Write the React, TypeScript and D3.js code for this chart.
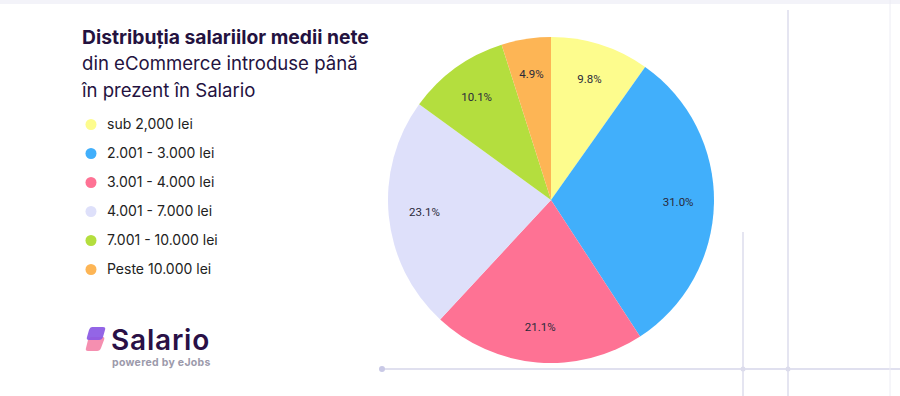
import * as d3 from 'd3';

const categories = ['sub 2,000 lei', '2.001 - 3.000 lei', '3.001 - 4.000 lei', '4.001 - 7.000 lei', '7.001 - 10.000 lei', 'Peste 10.000 lei'];
const shares = [9.8, 31.0, 21.1, 23.1, 10.1, 4.9];
const colors = ['#fdfc8d', '#41affb', '#fe7294', '#dee0fa', '#b4de3e', '#fdb555'];
const titleLines = ['Distribuția salariilor medii nete', 'din eCommerce introduse până', 'în prezent în Salario'];

const W = 900;
const H = 396;

const App = () => {
    const cx = 551;
    const cy = 200;
    const r = 163;

    const pie = d3.pie<number>().sort(null).value(d => d);
    const arcs = pie(shares);
    const arc = d3.arc<d3.PieArcDatum<number>>().innerRadius(0).outerRadius(r);
    const labelArc = d3.arc<d3.PieArcDatum<number>>().innerRadius(r * 0.78).outerRadius(r * 0.78);

    const legendY = d3.scaleBand<string>().domain(categories).range([110, 284]);

    return (
        <svg width={W} height={H} style={{ position: 'absolute', left: 0, top: 0, fontFamily: 'Inter, Roboto, sans-serif' }}>
            <rect width={W} height={H} fill="#ffffff" />
            <rect width={W} height={4} fill="#f3f3f9" />
            {/* decorative grid lines */}
            <line x1={788} x2={788} y1={10} y2={H} stroke="#dcdcec" strokeWidth={1.5} />
            <line x1={743} x2={743} y1={232} y2={H} stroke="#dcdcec" strokeWidth={1.5} />
            <line x1={382} x2={W} y1={369} y2={369} stroke="#d6d6ea" strokeWidth={1.5} />
            <line x1={890} x2={890} y1={0} y2={H} stroke="#ececf4" strokeWidth={1} />
            <circle cx={382} cy={369} r={3} fill="#c9c9e6" />
            <circle cx={743} cy={369} r={2.5} fill="#dcdcec" />
            <circle cx={788} cy={369} r={2.5} fill="#dcdcec" />

            <text x={82} y={44} fontSize={19.3} fontWeight={700} fill="#24123f">{titleLines[0]}</text>
            <text x={82} y={70} fontSize={18.6} fill="#24123f">{titleLines[1]}</text>
            <text x={82} y={97} fontSize={18.6} fill="#24123f">{titleLines[2]}</text>

            {categories.map((c, i) => {
                const y = legendY(c)! + legendY.bandwidth() / 2;
                return (
                    <g key={c}>
                        <circle cx={91} cy={y} r={5.5} fill={colors[i]} />
                        <text x={107} y={y} dy="0.35em" fontSize={14} fill="#222">{c}</text>
                    </g>
                );
            })}

            {/* logo */}
            <g>
                <path d="M91,337 L103,337 Q105,337 104,340 L101,348 Q100,351 97,351 L88,351 Q85,351 86,348 L88,340 Q89,337 91,337 Z" fill="#f58fb0" />
                <path d="M92,327 L103,327 Q106,327 105,330 L103,337 Q102,340 99,340 L89,340 Q86,340 87,337 L89,330 Q90,327 92,327 Z" fill="#8a58e4" opacity={0.92} />
                <text x={111} y={350} fontSize={28} fontWeight={600} fill="#2a1046" letterSpacing={0.8}>Salario</text>
                <text x={112} y={366} fontSize={10.5} fontWeight={700} fill="#9c9aab" letterSpacing={0.3}>powered by eJobs</text>
            </g>

            <g transform={`translate(${cx},${cy})`}>
                {arcs.map((a, i) => (
                    <path key={i} d={arc(a)!} fill={colors[i]} />
                ))}
                {arcs.map((a, i) => {
                    const [x, y] = labelArc.centroid(a);
                    return (
                        <text key={i} x={x} y={y} dy="0.35em" textAnchor="middle" fontSize={11.5} fontFamily="Roboto, sans-serif" fill="#2a2a3a">
                            {shares[i].toFixed(1)}%
                        </text>
                    );
                })}
            </g>
        </svg>
    );
};

export default App;
